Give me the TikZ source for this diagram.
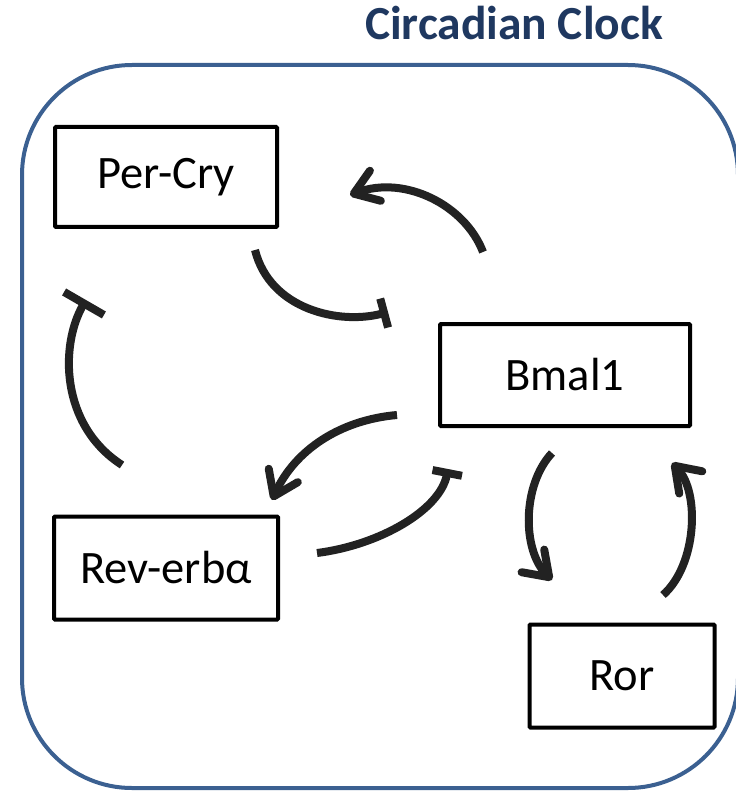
\documentclass[tikz,border=0pt]{standalone}
\usepackage{fontspec}
\setmainfont{Carlito}
\usetikzlibrary{arrows.meta}
\definecolor{clockblue}{RGB}{59,96,145}
\definecolor{titleblue}{RGB}{31,56,96}
\definecolor{arcgray}{RGB}{34,34,34}
\begin{document}
\begin{tikzpicture}[x=1pt,y=-1pt,
  gene/.style={draw=black, line width=4pt, rounded corners=1pt, inner sep=0pt,
    font=\fontsize{46.5}{52}\selectfont},
  link/.style={draw=arcgray, line width=8pt},
  act/.style={link, -{Straight Barb[length=23pt,width=32pt,round]}},
  inh/.style={link, -{Bar[width=30pt]}},
  inhwide/.style={link, -{Bar[width=46pt]}}
]
\useasboundingbox (0,0) rectangle (735,791);
% outer frame
\draw[clockblue, line width=4pt, rounded corners=110pt] (22,65) rectangle (738,788);
\node[anchor=base, text=titleblue, font=\fontsize{47.5}{52}\selectfont\bfseries] (title) at (514,40) {Circadian Clock};
% genes
\node[gene, minimum width=222pt, minimum height=100pt] (per) at (166,177) {Per-Cry};
\node[gene, minimum width=250pt, minimum height=102pt] (bmal) at (565,375) {Bmal1};
\node[gene, minimum width=224pt, minimum height=103pt] (rev) at (166,568) {Rev-erbα};
\node[gene, minimum width=185pt, minimum height=103pt] (ror) at (622,676) {Ror};
% connector end points
\coordinate (bp1) at (483,252);  \coordinate (pb1) at (350,195);
\coordinate (pb2) at (255,250);  \coordinate (bp2) at (388,312);
\coordinate (rp1) at (122,465);  \coordinate (pr1) at (86,300);
\coordinate (br1) at (397,415);  \coordinate (rb1) at (272,500);
\coordinate (rb2) at (317,553);  \coordinate (br2) at (448,469);
\coordinate (bo1) at (552,453);  \coordinate (ob1) at (552,580);
\coordinate (ob2) at (663,595);  \coordinate (bo2) at (672,463);
% connectors
\draw[act] (bp1) .. controls (465,205) and (405,175) .. (pb1);
\draw[inh] (pb2) .. controls (270,310) and (340,325) .. (bp2);
\draw[inhwide] (rp1) .. controls (60,425) and (60,345) .. (pr1);
\draw[act] (br1) .. controls (340,420) and (295,450) .. (rb1);
\draw[inh] (rb2) .. controls (380,545) and (440,510) .. (br2);
\draw[act] (bo1) .. controls (522,485) and (522,550) .. (ob1);
\draw[act] (ob2) .. controls (697,565) and (700,492) .. (bo2);
\end{tikzpicture}
\end{document}
